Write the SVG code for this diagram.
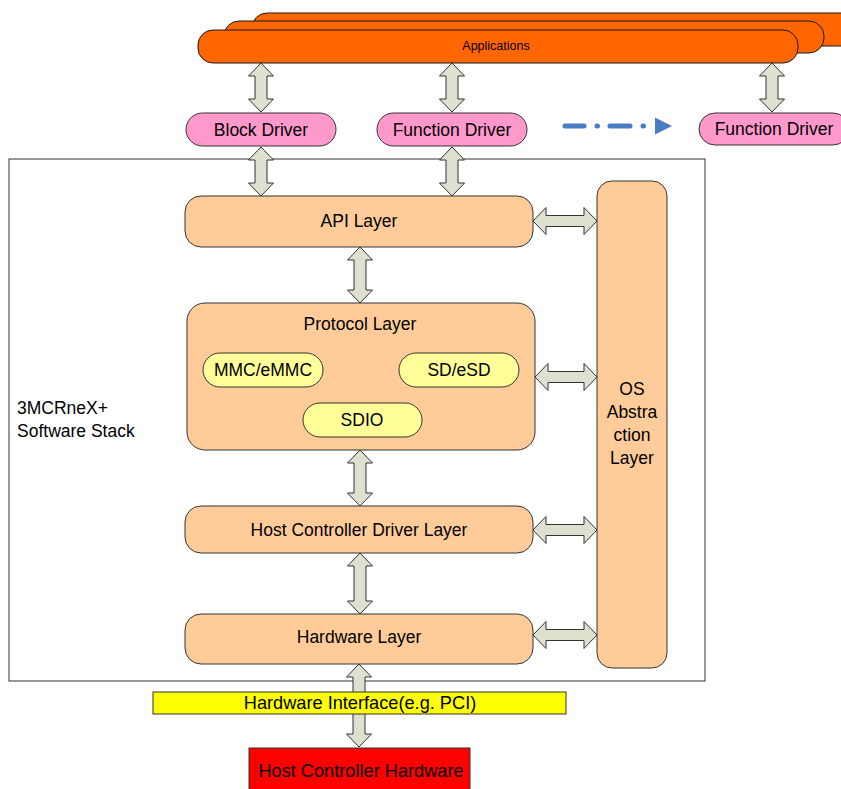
<svg xmlns="http://www.w3.org/2000/svg" width="841" height="789" viewBox="0 0 841 789">
<style>
text{font-family:"Liberation Sans",Arial,sans-serif;fill:#000}
.app{fill:#ff6600;stroke:#1a1a1a;stroke-width:1}
.drv{fill:#ff99cc;stroke:#333;stroke-width:1}
.lay{fill:#ffcc99;stroke:#333;stroke-width:1}
.sub{fill:#ffff99;stroke:#333;stroke-width:1}
.dbl{fill:#dde1d0;stroke:#333;stroke-width:1;stroke-linejoin:miter}
.t{font-size:17.5px;text-anchor:middle}
.tb{font-size:18.2px;text-anchor:middle}
</style>
<rect width="841" height="789" fill="#fff"/>

<g id="applications">
<rect class="app" x="252" y="13" width="610" height="33" rx="15"/>
<rect class="app" x="224" y="21" width="600" height="32" rx="15"/>
<rect class="app" x="198" y="30" width="600" height="33" rx="15"/>
<text x="496" y="50" font-size="12.5" text-anchor="middle">Applications</text>
</g>

<g id="frame">
<rect x="9" y="159" width="696" height="522" fill="none" stroke="#333" stroke-width="1"/>
<text x="17" y="414" font-size="17.5">3MCRneX+</text>
<text x="17" y="437" font-size="17.5">Software Stack</text>
</g>

<g id="connectors">
<path class="dbl" d="M261,63 L273.5,76 L267,76 L267,99 L273.5,99 L261,112 L248.5,99 L255,99 L255,76 L248.5,76 Z"/>
<path class="dbl" d="M452,63 L464.5,76 L458,76 L458,99 L464.5,99 L452,112 L439.5,99 L446,99 L446,76 L439.5,76 Z"/>
<path class="dbl" d="M772,63 L784.5,76 L778,76 L778,99 L784.5,99 L772,112 L759.5,99 L766,99 L766,76 L759.5,76 Z"/>
<path class="dbl" d="M261,147 L273.5,160 L267,160 L267,183 L273.5,183 L261,196 L248.5,183 L255,183 L255,160 L248.5,160 Z"/>
<path class="dbl" d="M452,147 L464.5,160 L458,160 L458,183 L464.5,183 L452,196 L439.5,183 L446,183 L446,160 L439.5,160 Z"/>
<path class="dbl" d="M360,247 L372.5,260 L366,260 L366,290 L372.5,290 L360,303 L347.5,290 L354,290 L354,260 L347.5,260 Z"/>
<path class="dbl" d="M360,450 L372.5,463 L366,463 L366,493 L372.5,493 L360,506 L347.5,493 L354,493 L354,463 L347.5,463 Z"/>
<path class="dbl" d="M360,553 L372.5,566 L366,566 L366,601 L372.5,601 L360,614 L347.5,601 L354,601 L354,566 L347.5,566 Z"/>
<path class="dbl" d="M359,664 L371.5,677 L365,677 L365,734 L371.5,734 L359,747 L346.5,734 L353,734 L353,677 L346.5,677 Z"/>
<path class="dbl" d="M533,221 L546,207.5 L546,215.5 L584,215.5 L584,207.5 L597,221 L584,234.5 L584,226.5 L546,226.5 L546,234.5 Z"/>
<path class="dbl" d="M535,377 L548,363.5 L548,371.5 L584,371.5 L584,363.5 L597,377 L584,390.5 L584,382.5 L548,382.5 L548,390.5 Z"/>
<path class="dbl" d="M533,530 L546,516.5 L546,524.5 L584,524.5 L584,516.5 L597,530 L584,543.5 L584,535.5 L546,535.5 L546,543.5 Z"/>
<path class="dbl" d="M533,635 L546,621.5 L546,629.5 L584,629.5 L584,621.5 L597,635 L584,648.5 L584,640.5 L546,640.5 L546,648.5 Z"/>
<path d="M565,126 L584,126 M597,126 L597.5,126 M610,126 L630,126 M643,126 L643.5,126" fill="none" stroke="#4a7cc4" stroke-width="5" stroke-linecap="round"/>
<path d="M655,117.5 L672,126 L655,134.5 Z" fill="#4a7cc4"/>
</g>

<g id="block-driver">
<rect class="drv" x="186" y="113" width="150" height="33" rx="16.5"/>
<text class="t" x="261" y="135.5">Block Driver</text>
</g>
<g id="function-driver">
<rect class="drv" x="377" y="113" width="150" height="33" rx="16.5"/>
<text class="t" x="452" y="135.5">Function Driver</text>
</g>
<g id="function-driver-2">
<rect class="drv" x="699" y="113" width="150" height="32" rx="16"/>
<text class="t" x="774" y="135">Function Driver</text>
</g>

<g id="api-layer">
<rect class="lay" x="185" y="196" width="348" height="51" rx="16"/>
<text class="t" x="359" y="227">API Layer</text>
</g>

<g id="protocol-layer">
<rect class="lay" x="187" y="303" width="348" height="147" rx="18"/>
<text class="t" x="360" y="330">Protocol Layer</text>
</g>
<g id="mmc">
<rect class="sub" x="203" y="353" width="120" height="34" rx="17"/>
<text class="t" x="263" y="376">MMC/eMMC</text>
</g>
<g id="sd">
<rect class="sub" x="399" y="353" width="120" height="34" rx="17"/>
<text class="t" x="459" y="376">SD/eSD</text>
</g>
<g id="sdio">
<rect class="sub" x="303" y="403" width="119" height="34" rx="17"/>
<text class="t" x="362" y="426">SDIO</text>
</g>

<g id="hcd-layer">
<rect class="lay" x="185" y="506" width="348" height="47" rx="16"/>
<text class="t" x="359" y="536">Host Controller Driver Layer</text>
</g>

<g id="hardware-layer">
<rect class="lay" x="185" y="614" width="348" height="50" rx="16"/>
<text class="t" x="359" y="643">Hardware Layer</text>
</g>

<g id="os-layer">
<rect class="lay" x="597" y="181" width="70" height="487" rx="15"/>
<text class="t" x="632" y="395">OS</text>
<text class="t" x="632" y="418">Abstra</text>
<text class="t" x="632" y="441">ction</text>
<text class="t" x="632" y="464">Layer</text>
</g>

<g id="hardware-interface">
<rect x="153" y="692" width="413" height="22" fill="#ffff00" stroke="#333" stroke-width="1"/>
<text class="tb" x="360" y="709">Hardware Interface(e.g. PCI)</text>
</g>

<g id="host-controller-hardware">
<rect x="249" y="748" width="221" height="50" fill="#ff0000" stroke="#333" stroke-width="1"/>
<text class="tb" x="361" y="777">Host Controller Hardware</text>
</g>
</svg>
